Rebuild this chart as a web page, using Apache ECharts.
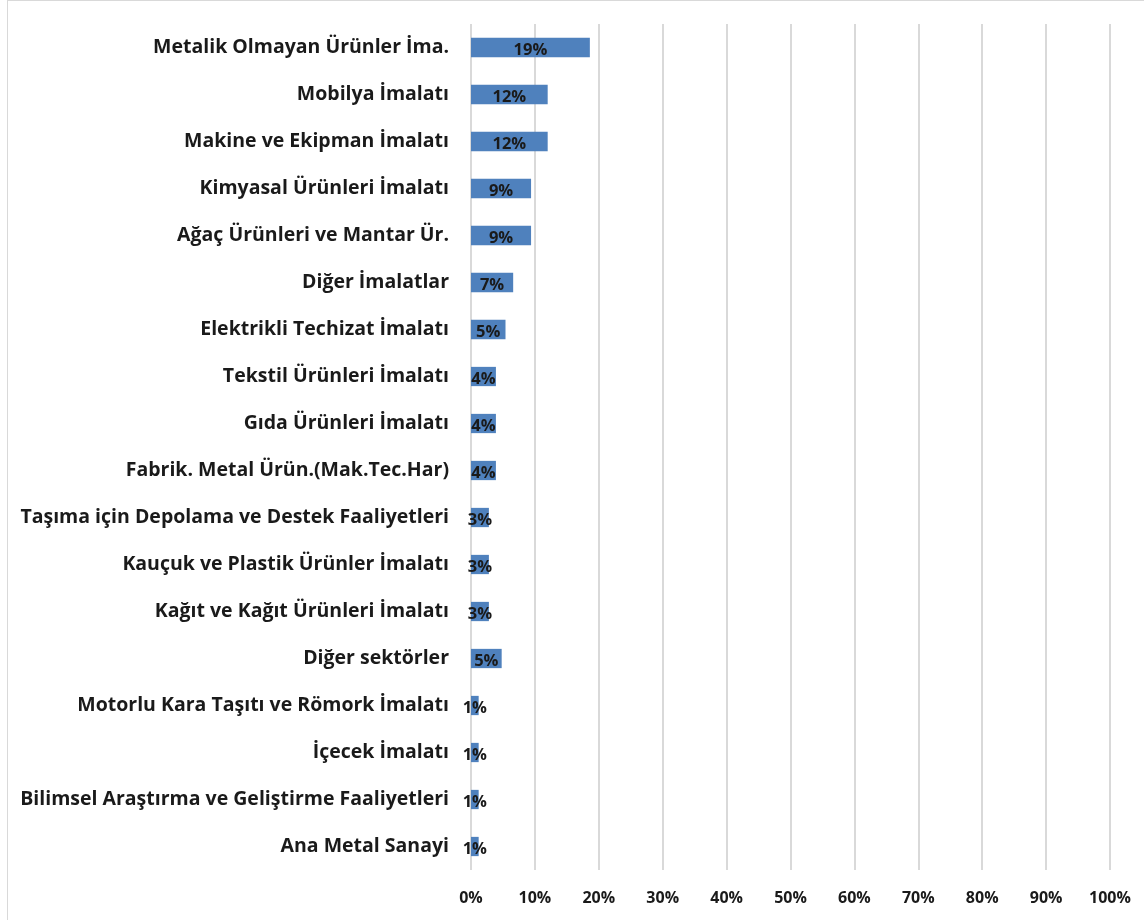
<!DOCTYPE html>
<html>
<head>
<meta charset="utf-8">
<script src="https://cdn.jsdelivr.net/npm/echarts@6/dist/echarts.min.js"></script>
<style>
  html, body { margin: 0; padding: 0; background: #fff; }
  #frame { position: absolute; left: 7px; top: 0; width: 1137px; height: 920px; border-left: 1px solid #d9d9d9; border-top: 1px solid #d9d9d9; box-sizing: border-box; }
  #chart { position: absolute; left: 0; top: 0; width: 1144px; height: 920px; }
</style>
</head>
<body>
<div id="frame"></div>
<div id="chart"></div>
<script>
// sektör payları (%), yukarıdan aşağıya
var categories = [
	'Metalik Olmayan Ürünler İma.',
	'Mobilya İmalatı',
	'Makine ve Ekipman İmalatı',
	'Kimyasal Ürünleri İmalatı',
	'Ağaç Ürünleri ve Mantar Ür.',
	'Diğer İmalatlar',
	'Elektrikli Techizat İmalatı',
	'Tekstil Ürünleri İmalatı',
	'Gıda Ürünleri İmalatı',
	'Fabrik. Metal Ürün.(Mak.Tec.Har)',
	'Taşıma için Depolama ve Destek Faaliyetleri',
	'Kauçuk ve Plastik Ürünler İmalatı',
	'Kağıt ve Kağıt Ürünleri İmalatı',
	'Diğer sektörler',
	'Motorlu Kara Taşıtı ve Römork İmalatı',
	'İçecek İmalatı',
	'Bilimsel Araştırma ve Geliştirme Faaliyetleri',
	'Ana Metal Sanayi'
];
var shares = [18.6, 12.0, 12.0, 9.4, 9.4, 6.6, 5.4, 3.9, 3.9, 3.9, 2.8, 2.8, 2.8, 4.8, 1.2, 1.2, 1.2, 1.2];
var xTicks = [0, 10, 20, 30, 40, 50, 60, 70, 80, 90, 100];

var fontName = 'Open Sans';
var myChart = echarts.init(document.getElementById('chart'));
var option = {
	animation: false,
	grid: { left: 471, right: 34, top: 24, bottom: 50 },
	xAxis: {
		type: 'value',
		min: xTicks[0],
		max: xTicks[xTicks.length - 1],
		interval: 10,
		axisLine: { show: false },
		axisTick: { show: false },
		splitLine: { show: true, lineStyle: { color: '#d9d9d9', width: 2 } },
		axisLabel: {
			margin: 20,
			color: '#1a1a1a',
			fontFamily: fontName,
			fontWeight: 'bold',
			fontSize: 16,
			formatter: function(v) { return v + '%'; }
		}
	},
	yAxis: {
		type: 'category',
		inverse: true,
		data: categories,
		axisLine: { show: false },
		axisTick: { show: false },
		axisLabel: {
			margin: 22,
			color: '#1a1a1a',
			fontFamily: fontName,
			fontWeight: 'bold',
			fontSize: 19.5
		}
	},
	series: [{
		type: 'bar',
		data: shares,
		barWidth: '41%',
		itemStyle: { color: '#4f81bd' },
		label: {
			show: true,
			position: 'inside',
			offset: [0, 3],
			color: '#1a1a1a',
			fontFamily: fontName,
			fontWeight: 'bold',
			fontSize: 16.5,
			formatter: function(p) { return Math.round(p.value) + '%'; }
		}
	}]
};
myChart.setOption(option);
</script>
</body>
</html>
